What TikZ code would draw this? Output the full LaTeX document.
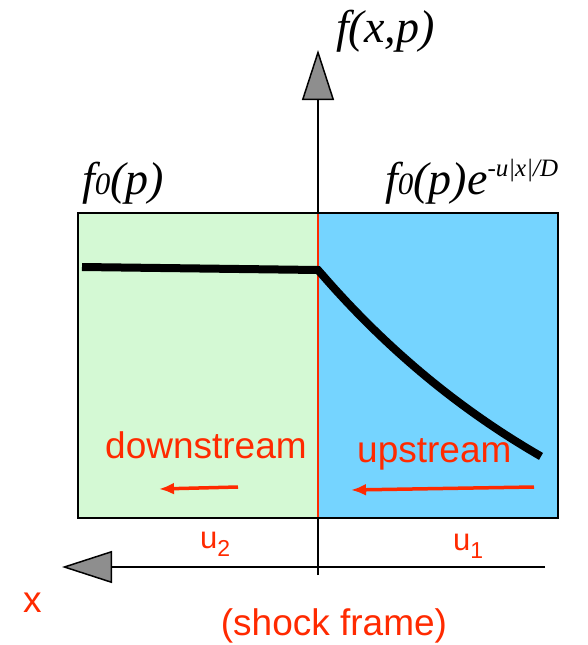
\documentclass[tikz,border=0pt]{standalone}
\usepackage{fontspec}
\setmainfont{Liberation Serif}
\newfontfamily\sansf{Liberation Sans}
\usetikzlibrary{arrows.meta}
\definecolor{dsgreen}{HTML}{D4F9D4}
\definecolor{usblue}{HTML}{75D4FF}
\definecolor{shockred}{HTML}{FF2A00}
\definecolor{tipgray}{HTML}{8E8E8E}
\newcommand\lowzero{{\fontsize{31}{31}\selectfont 0}}
\begin{document}
\begin{tikzpicture}[x=1pt,y=-1pt,
  redlabel/.style={text=shockred,font=\sansf\fontsize{37}{40}\selectfont,inner sep=0pt},
  sublabel/.style={text=shockred,font=\sansf\fontsize{31}{34}\selectfont,inner sep=0pt},
  mathlabel/.style={font=\fontsize{46}{50}\selectfont\itshape,inner sep=0pt},
  region/.style={draw=black,line width=2pt},
  axis/.style={line width=1.5pt,-{Triangle[length=50pt,width=32pt,fill=tipgray,line width=1.5pt]}},
  flow/.style={draw=shockred,line width=3.5pt,-{Latex[length=15pt,width=12pt]}},
  profile/.style={line width=8pt}]
\useasboundingbox (0,0) rectangle (587,645);
\fill[white] (0,0) rectangle (587,645);
% regions
\path[region,fill=dsgreen] (78,213) rectangle (318,518);
\path[region,fill=usblue] (318,213) rectangle (558,518);
% axes
\coordinate (vbot) at (318,575);
\coordinate (vtop) at (318,50);
\coordinate (hright) at (545,567);
\coordinate (hleft) at (62,567);
\draw[axis] (vbot) -- (vtop);
\draw[axis] (hright) -- (hleft);
% shock
\coordinate (sTop) at (318,214);
\coordinate (sBot) at (318,517);
\draw[shockred,line width=2.5pt] (sTop) -- (sBot);
% profile
\coordinate (pL) at (82,267);
\coordinate (pS) at (318,270);
\draw[profile] (pL) -- (pS) -- plot[domain=318:541,samples=50] (\x,{270+370*(1-exp(-0.003147*(\x-318)))});
% flow arrows
\coordinate (d1) at (238,487);
\coordinate (d2) at (159,489);
\coordinate (u1s) at (534,487);
\coordinate (u1e) at (351,490);
\draw[flow] (d1) -- (d2);
\draw[flow] (u1s) -- (u1e);
% labels
\node[mathlabel,anchor=base west] (fxp) at (336,42) {f(x,p)};
\node[mathlabel,anchor=base west] (f0l) at (82,194) {f\lowzero(p)};
\node[mathlabel,anchor=base west] (f0r) at (385,194) {f\lowzero(p)e\raisebox{18pt}{\fontsize{25}{25}\selectfont -u|x|/D}};
\node[redlabel,anchor=base west] (down) at (105,458) {downstream};
\node[redlabel,anchor=base west] (up) at (357,462) {upstream};
\node[sublabel,anchor=base west] (utwo) at (200,548) {u\raisebox{-8pt}{\fontsize{23}{23}\selectfont 2}};
\node[sublabel,anchor=base west] (uone) at (453,550) {u\raisebox{-8pt}{\fontsize{23}{23}\selectfont 1}};
\node[redlabel,anchor=base west] (xlab) at (23,612) {x};
\node[redlabel,anchor=base] (frame) at (334,635) {(shock frame)};
\end{tikzpicture}
\end{document}
